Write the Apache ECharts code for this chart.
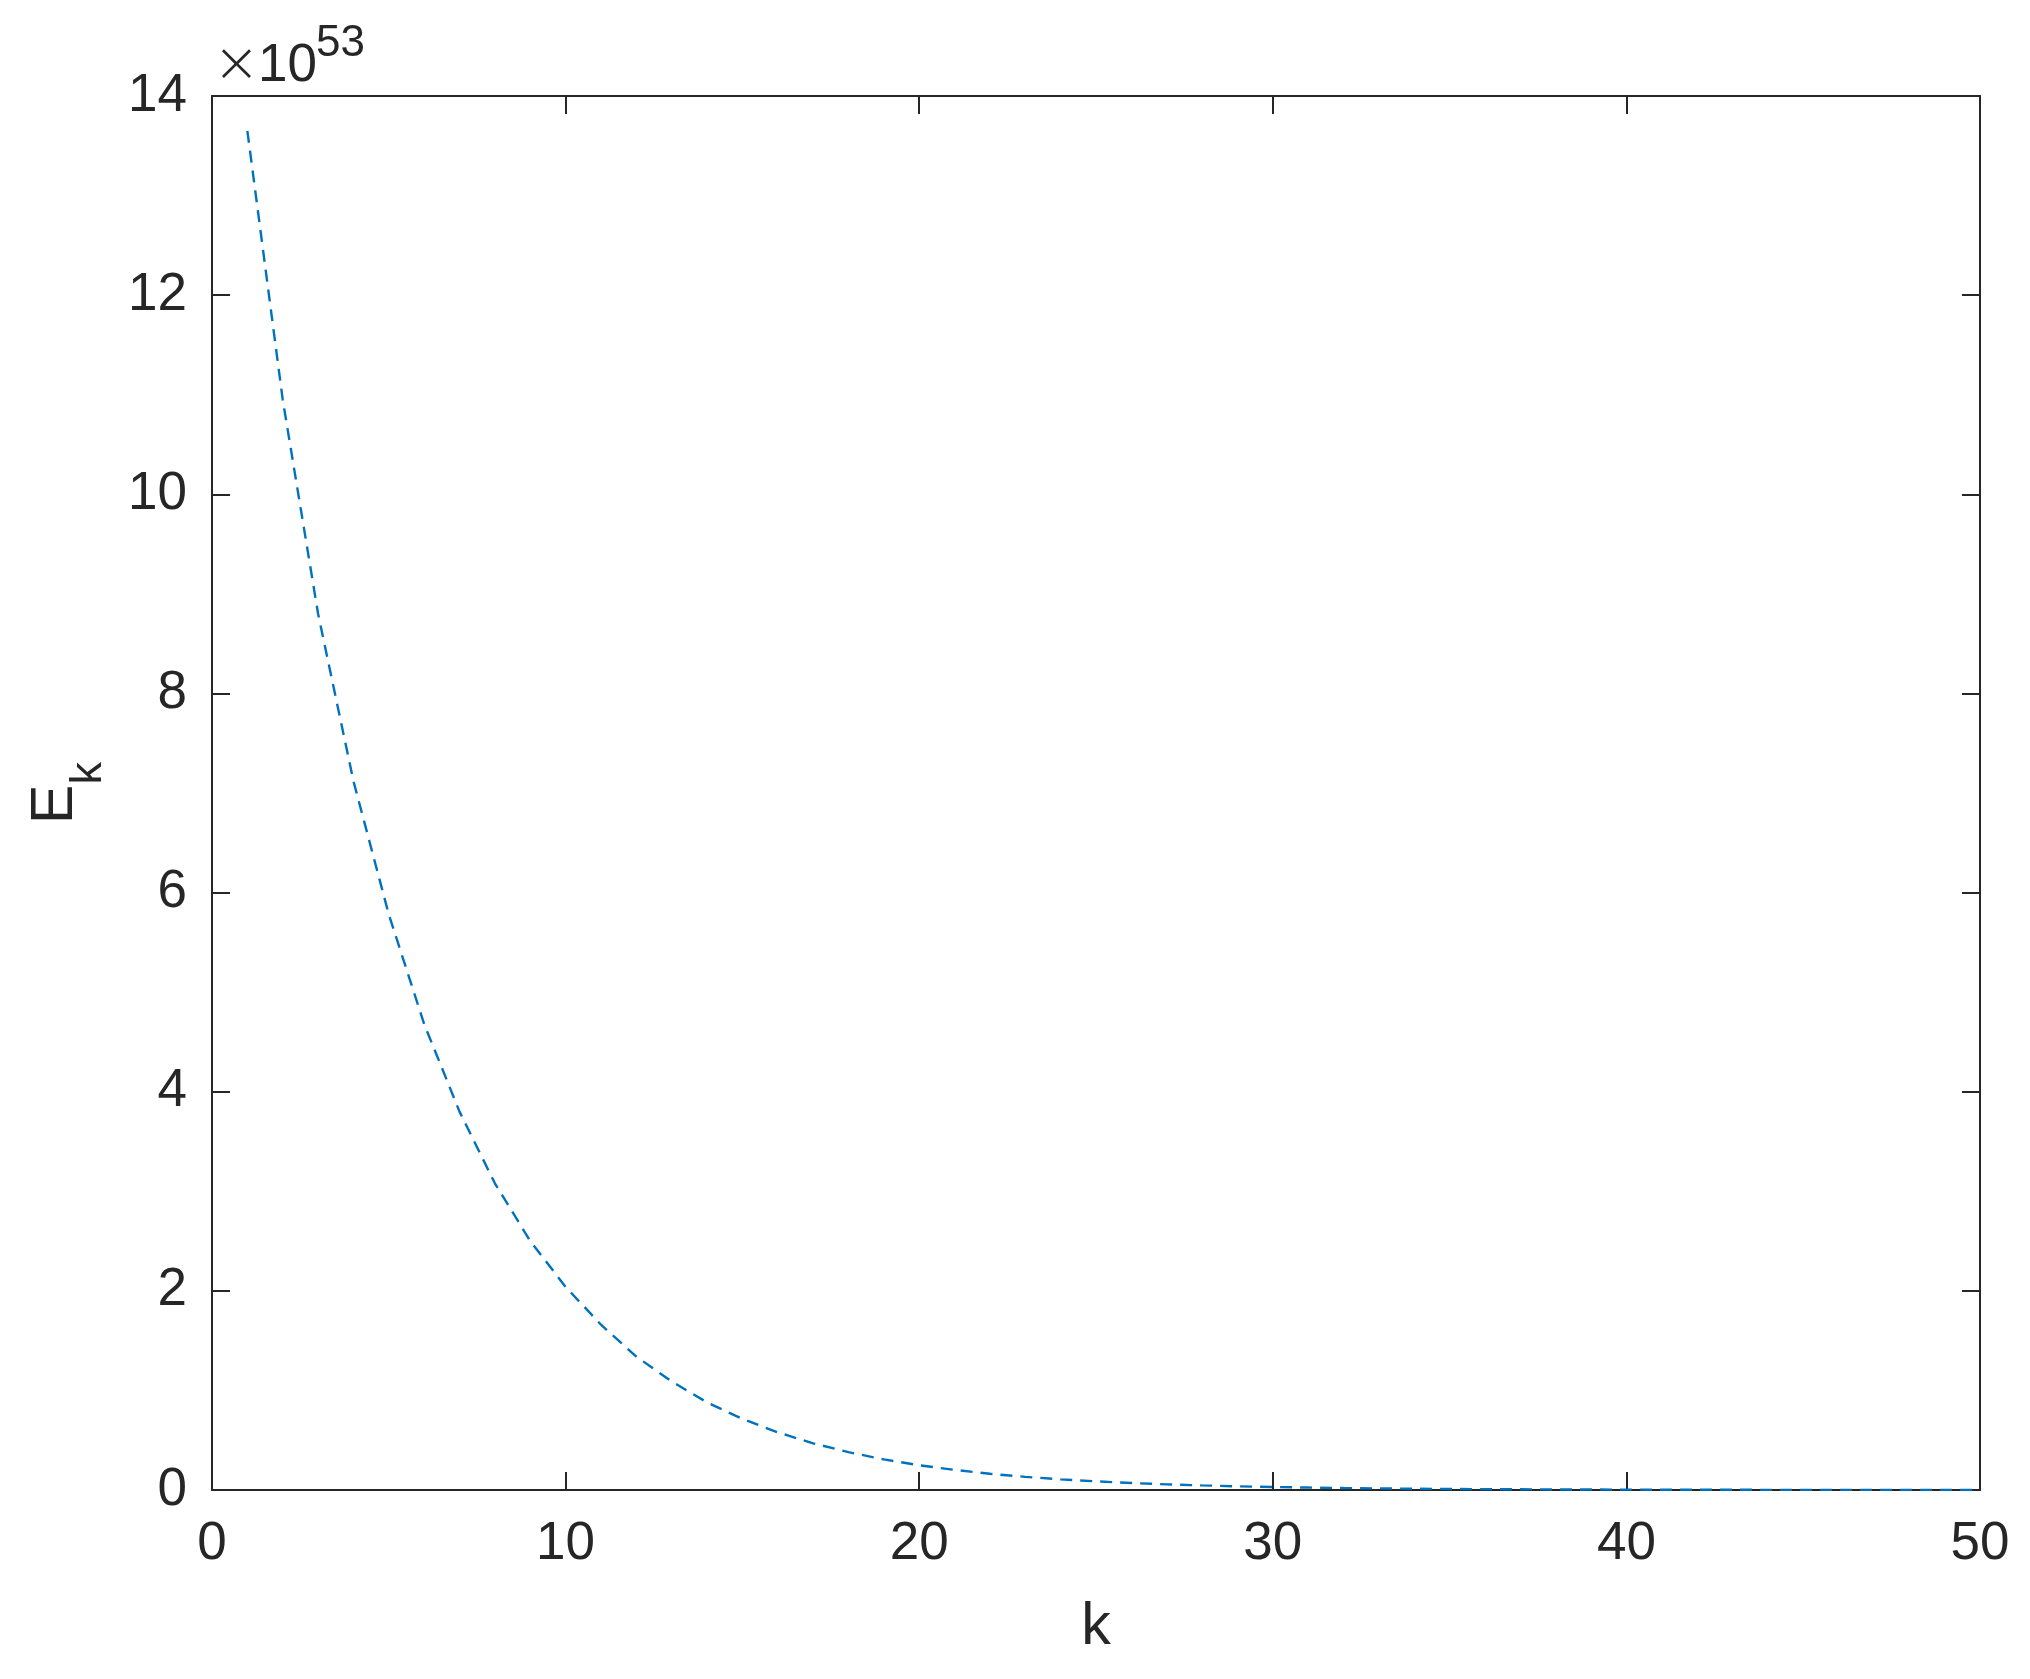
<!DOCTYPE html>
<html>
<head>
<meta charset="utf-8">
<title>E_k</title>
<script src="https://cdn.jsdelivr.net/npm/echarts@6/dist/echarts.min.js"></script>
<style>
  html, body { margin: 0; padding: 0; background: #fff; }
  #chart { width: 2030px; height: 1679px; }
</style>
</head>
<body>
<div id="chart"></div>
<script>
  // k = 1..50
  var kValues = [
    1, 2, 3, 4, 5, 6, 7, 8, 9, 10,
    11, 12, 13, 14, 15, 16, 17, 18, 19, 20,
    21, 22, 23, 24, 25, 26, 27, 28, 29, 30,
    31, 32, 33, 34, 35, 36, 37, 38, 39, 40,
    41, 42, 43, 44, 45, 46, 47, 48, 49, 50
  ]
  // E_k in units of 1e53
  var ekValues = [
    13.65, 10.95, 8.80, 7.12, 5.78, 4.68, 3.80, 3.08, 2.50, 2.04,
    1.66, 1.34, 1.09, 0.88, 0.714, 0.579, 0.469, 0.380, 0.307, 0.249,
    0.202, 0.163, 0.132, 0.107, 0.087, 0.070, 0.057, 0.046, 0.037, 0.030,
    0.0245, 0.0198, 0.0161, 0.0130, 0.0106, 0.0085, 0.0069, 0.0056, 0.0045, 0.0037,
    0.0030, 0.0024, 0.0020, 0.0016, 0.0013, 0.0010, 0.0008, 0.0007, 0.0005, 0.0004
  ]
  var xTicks = { min: 0, max: 50, interval: 10 }
  var yTicks = { min: 0, max: 14, interval: 2 }
  var exponentText = '53'

  var textColor = '#262626'
  var fontFamily = '"Liberation Sans", Arial, Helvetica, sans-serif'

  var seriesData = kValues.map(function (k, i) { return [k, ekValues[i]] })

  // shared look for the four sides of the box
  var boxAxis = {
    axisLine: { show: true, onZero: false, lineStyle: { color: textColor, width: 2 } },
    axisTick: { show: true, inside: true, length: 18, lineStyle: { color: textColor, width: 2 } },
    splitLine: { show: false }
  }

  var myChart = echarts.init(document.getElementById('chart'))
  var option = {
    animation: false,
    backgroundColor: '#fff',
    textStyle: { fontFamily: fontFamily },
    grid: { left: 212, top: 96, right: 50, bottom: 189, containLabel: false, outerBoundsMode: 'none' },
    xAxis: [
      Object.assign({
        type: 'value',
        position: 'bottom',
        min: xTicks.min, max: xTicks.max, interval: xTicks.interval,
        axisLabel: { color: textColor, fontSize: 53, margin: 28, fontFamily: fontFamily },
        name: 'k',
        nameLocation: 'middle',
        nameGap: 108,
        nameTextStyle: { color: textColor, fontSize: 59, fontFamily: fontFamily }
      }, boxAxis),
      Object.assign({
        type: 'value',
        position: 'top',
        min: xTicks.min, max: xTicks.max, interval: xTicks.interval,
        axisLabel: { show: false }
      }, boxAxis)
    ],
    yAxis: [
      Object.assign({
        type: 'value',
        position: 'left',
        min: yTicks.min, max: yTicks.max, interval: yTicks.interval,
        axisLabel: { color: textColor, fontSize: 53, margin: 25, fontFamily: fontFamily },
        name: '{e|E}{s|k}',
        nameLocation: 'middle',
        nameGap: 101,
        nameTextStyle: {
          color: textColor,
          fontFamily: fontFamily,
          rich: {
            e: { fontSize: 59, color: textColor, verticalAlign: 'top', fontFamily: fontFamily },
            s: { fontSize: 45, color: textColor, verticalAlign: 'top', padding: [40, 0, 0, 0], fontFamily: fontFamily }
          }
        }
      }, boxAxis),
      Object.assign({
        type: 'value',
        position: 'right',
        min: yTicks.min, max: yTicks.max, interval: yTicks.interval,
        axisLabel: { show: false }
      }, boxAxis)
    ],
    graphic: [
      {
        type: 'text', x: 213, y: 66,
        style: { text: '×', fill: textColor, fontSize: 56, fontFamily: '"DejaVu Sans", sans-serif', fontWeight: 200, verticalAlign: 'middle' }
      },
      {
        type: 'text', x: 258, y: 66,
        style: { text: '10', fill: textColor, fontSize: 53, fontFamily: fontFamily, verticalAlign: 'middle' }
      },
      {
        type: 'text', x: 316, y: 44,
        style: { text: exponentText, fill: textColor, fontSize: 44, fontFamily: fontFamily, verticalAlign: 'middle' }
      }
    ],
    series: [
      {
        name: 'E_k',
        type: 'line',
        xAxisIndex: 0,
        yAxisIndex: 0,
        showSymbol: false,
        symbol: 'none',
        lineStyle: { color: '#0072BD', width: 2.4, type: [12, 8] },
        data: seriesData
      }
    ]
  }
  myChart.setOption(option)
</script>
</body>
</html>
